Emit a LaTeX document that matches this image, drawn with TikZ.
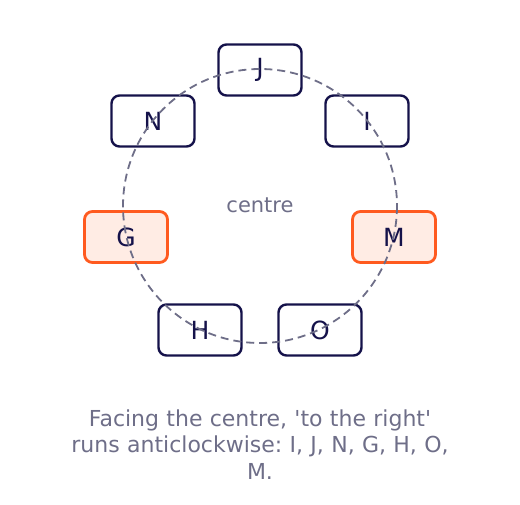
\documentclass[tikz,border=0pt]{standalone}
\usepackage{fontspec}
\setmainfont{DejaVu Sans}
\definecolor{navy}{HTML}{15124A}
\definecolor{ring}{HTML}{6E6E88}
\definecolor{hot}{HTML}{FF5A1F}
\definecolor{hotfill}{HTML}{FFECE4}
\frenchspacing
\begin{document}
\begin{tikzpicture}[x=1pt,y=-1pt,
  seat/.style={draw=navy,line width=2.4pt,rounded corners=8pt,minimum width=83pt,minimum height=51pt,
    text=navy,font=\fontsize{25}{29}\selectfont,inner sep=0pt},
  hotseat/.style={seat,draw=hot,fill=hotfill,line width=2.8pt},
  ringline/.style={draw=ring,line width=1.8pt,dash pattern=on 8pt off 5pt},
  note/.style={text=ring,font=\fontsize{22}{26.5}\selectfont}]
\useasboundingbox (0,0) rectangle (520,505);
\coordinate (c) at (260,206);
\node[seat] (J) at (260,70) {J};
\node[seat] (I) at (367,121) {I};
\node[hotseat] (M) at (394,237) {M};
\node[seat] (O) at (320,330) {O};
\node[seat] (H) at (200,330) {H};
\node[hotseat] (G) at (126,237) {G};
\node[seat] (N) at (153,121) {N};
\draw[ringline] (c) circle[radius=137];
\node[note] (centre) at (260,205) {\fontsize{21}{26}\selectfont centre};
\node[note,align=center,text width=420pt,anchor=north] (cap) at (260,406)
  {Facing the centre, \textquotesingle to the right\textquotesingle\\runs anticlockwise: I, J, N, G, H, O,\\M.};
\end{tikzpicture}
\end{document}
